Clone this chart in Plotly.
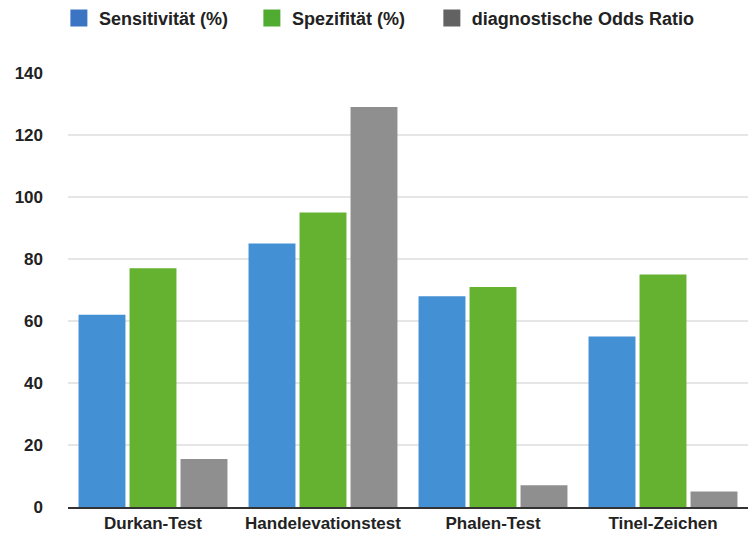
import plotly.graph_objects as go

# Diagnostic tests for carpal tunnel syndrome
tests = ["Durkan-Test", "Handelevationstest", "Phalen-Test", "Tinel-Zeichen"]
sensitivity = [62, 85, 68, 55]
specificity = [77, 95, 71, 75]
odds_ratio = [15.5, 129, 7, 5]
y_ticks = [0, 20, 40, 60, 80, 100, 120, 140]

names = ["Sensitivität (%)", "Spezifität (%)", "diagnostische Odds Ratio"]
values = [sensitivity, specificity, odds_ratio]
bar_colors = ["#4390d4", "#64b22f", "#8f8f8f"]
key_colors = ["#3a74c2", "#4fab31", "#626262"]
key_legends = ["legend", "legend", "legend2"]

font = dict(family="Liberation Sans, Arial, sans-serif", color="#222222", weight="bold")

fig = go.Figure()
for name, vals, color in zip(names, values, bar_colors):
    fig.add_trace(go.Bar(
        x=tests, y=vals, name=name, showlegend=False,
        marker=dict(color=color, line=dict(width=0)),
    ))

# legend keys live on a hidden axis pair so they do not take bar slots
for name, color, lg in zip(names, key_colors, key_legends):
    fig.add_trace(go.Bar(
        x=[tests[0]], y=[None], name=name, xaxis="x2", yaxis="y2", legend=lg,
        marker=dict(color=color, line=dict(color=color, width=5)),
    ))

legend_common = dict(
    orientation="h", yanchor="middle", y=0.966, xanchor="left",
    xref="container", yref="container", font=dict(size=18, **font),
    itemwidth=30, traceorder="normal",
)

fig.update_layout(
    width=755, height=535,
    margin=dict(l=68, r=7, t=73, b=28, autoexpand=False),
    paper_bgcolor="white", plot_bgcolor="white",
    barmode="group", bargap=0.1, bargroupgap=0.08,
    showlegend=True,
    legend=dict(x=0.078, entrywidth=148, entrywidthmode="pixels", **legend_common),
    legend2=dict(x=0.572, **legend_common),
    xaxis=dict(
        showgrid=False, showline=True, linecolor="#333333", linewidth=2,
        tickfont=dict(size=17, **font), ticks="", automargin=False,
    ),
    yaxis=dict(
        range=[0, 140], tickvals=y_ticks, showgrid=True, gridcolor="#e6e6e6",
        gridwidth=1.5, zeroline=False, showline=False, automargin=False,
        tickfont=dict(size=17, **font), ticklabelstandoff=24,
    ),
    xaxis2=dict(visible=False, overlaying="x"),
    yaxis2=dict(visible=False, overlaying="y", range=[0, 1]),
)

fig.write_html("out.html")
